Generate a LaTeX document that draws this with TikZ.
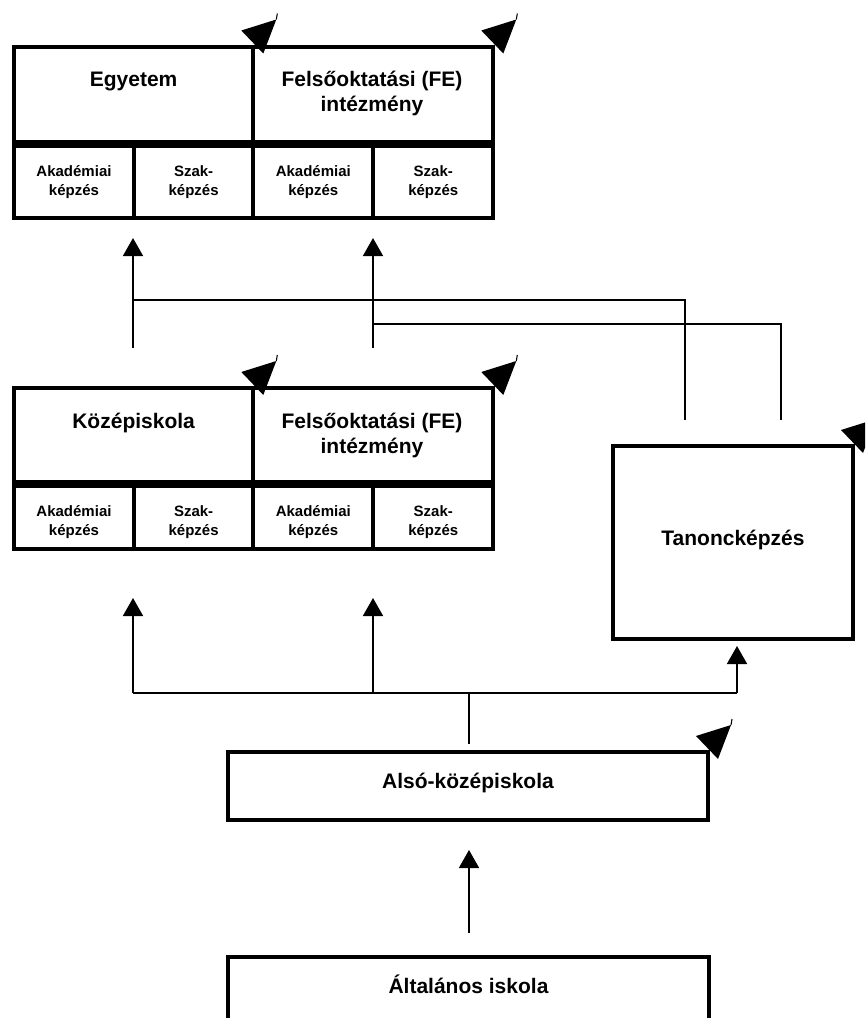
\documentclass[tikz,border=0pt]{standalone}
\usepackage{fontspec}
\setmainfont{Liberation Sans}
\usetikzlibrary{arrows.meta,calc}
\begin{document}
\begin{tikzpicture}[x=0.75pt,y=-0.75pt,
  cell/.style={draw,line width=3pt,outer sep=0pt,inner sep=0pt,anchor=north west},
  sz/.style 2 args={minimum width=#1*0.75pt,minimum height=#2*0.75pt},
  big/.style={font=\bfseries\fontsize{15.75}{18.75}\selectfont,align=center,anchor=base,inner sep=0pt},
  small/.style={font=\bfseries\fontsize{11.25}{14.25}\selectfont,align=center,anchor=base,inner sep=0pt},
  conn/.style={line width=1.3pt},
  arr/.style={conn,-{Triangle[length=13.5pt,width=15pt]}},
  stub/.style={line width=0.8pt}
]
\useasboundingbox (0,0) rectangle (865,1018);
\clip (0,0) rectangle (865,1018);

% ---- higher education level
\node[cell,sz={239.3}{95.5}] (egy) at (14,46.5) {};
\node[cell,sz={240}{95.5}]   (fe1) at (253.3,46.5) {};
\node[cell,sz={120}{72.3}]   (ak1) at (14,146) {};
\node[cell,sz={119.3}{72.3}] (sz1) at (134,146) {};
\node[cell,sz={120}{72.3}]   (ak2) at (253.3,146) {};
\node[cell,sz={120}{72.3}]   (sz2) at (373.3,146) {};
% the base anchor of a two-line label sits on its last line
\node[big] (egyT) at (133.6,86) {Egyetem};
\node[big] (fe1T) at (372,111) {Felsőoktatási (FE)\\intézmény};
\node[small] (ak1T) at (ak1.north |- 0,195.7) {Akadémiai\\képzés};
\node[small] (sz1T) at (sz1.north |- 0,195.7) {Szak-\\képzés};
\node[small] (ak2T) at (ak2.north |- 0,195.7) {Akadémiai\\képzés};
\node[small] (sz2T) at (sz2.north |- 0,195.7) {Szak-\\képzés};

% ---- secondary level
\node[cell,sz={239.3}{93.5}] (ks)  at (14,388) {};
\node[cell,sz={240}{93.5}]   (fe2) at (253.3,388) {};
\node[cell,sz={120}{63.5}]   (ak3) at (14,485.5) {};
\node[cell,sz={119.3}{63.5}] (sz3) at (134,485.5) {};
\node[cell,sz={120}{63.5}]   (ak4) at (253.3,485.5) {};
\node[cell,sz={120}{63.5}]   (sz4) at (373.3,485.5) {};
\node[big] (ksT)  at (133.6,428) {Középiskola};
\node[big] (fe2T) at (372,453) {Felsőoktatási (FE)\\intézmény};
\node[small] (ak3T) at (ak3.north |- 0,535) {Akadémiai\\képzés};
\node[small] (sz3T) at (sz3.north |- 0,535) {Szak-\\képzés};
\node[small] (ak4T) at (ak4.north |- 0,535) {Akadémiai\\képzés};
\node[small] (sz4T) at (sz4.north |- 0,535) {Szak-\\képzés};

% ---- apprenticeship
\node[cell,sz={240}{193}] (tan) at (613,446) {};
\node[big] (tanT) at (733,545) {Tanoncképzés};

% ---- lower levels
\node[cell,sz={480}{68}] (also) at (228,752) {};
\node[big] (alsoT) at (468,788) {Alsó-középiskola};
\node[cell,sz={481}{90}] (alt) at (228,957) {};
\node[big] (altT) at (468.5,993) {Általános iskola};

% ---- links into the higher education level
\coordinate (m1) at (133,348);
\coordinate (m2) at (373,348);
\coordinate (h1) at (133,300);
\coordinate (h2) at (373,324);
\coordinate (ta) at (685,420);
\coordinate (tb) at (781,420);
\draw[arr,shorten >=14.8pt] (m1) -- (m1 |- ak1.south);
\draw[arr,shorten >=14.8pt] (m2) -- (m2 |- ak2.south);
\draw[conn] (ta) |- (h1);
\draw[conn] (tb) |- (h2);

% ---- links out of the lower secondary level
\coordinate (s)  at (469,744);
\coordinate (j)  at (469,693);
\coordinate (b1) at (133,693);
\coordinate (b2) at (373,693);
\coordinate (b3) at (737,693);
\draw[conn] (s) -- (j);
\draw[conn] (b1) -- (b3);
\draw[arr,shorten >=36.75pt] (b1) -- (b1 |- ak3.south);
\draw[arr,shorten >=36.75pt] (b2) -- (b2 |- ak4.south);
\draw[arr,shorten >=5.25pt] (b3) -- (b3 |- tan.south);

% ---- primary to lower secondary
\coordinate (g) at (469,933);
\draw[arr,shorten >=22.5pt] (g) -- (g |- also.south);

% ---- pointer marks at the top right corners
\foreach \n in {egy,fe1,ks,fe2,tan,also}{
  \fill ($(\n.north east)+(10,7)$) -- ($(\n.north east)+(-12,-16)$)
        -- ($(\n.north east)+(23,-27)$) -- cycle;
  \draw[stub] ($(\n.north east)+(23,-27)$) -- ($(\n.north east)+(24,-33)$);
}
\end{tikzpicture}
\end{document}
